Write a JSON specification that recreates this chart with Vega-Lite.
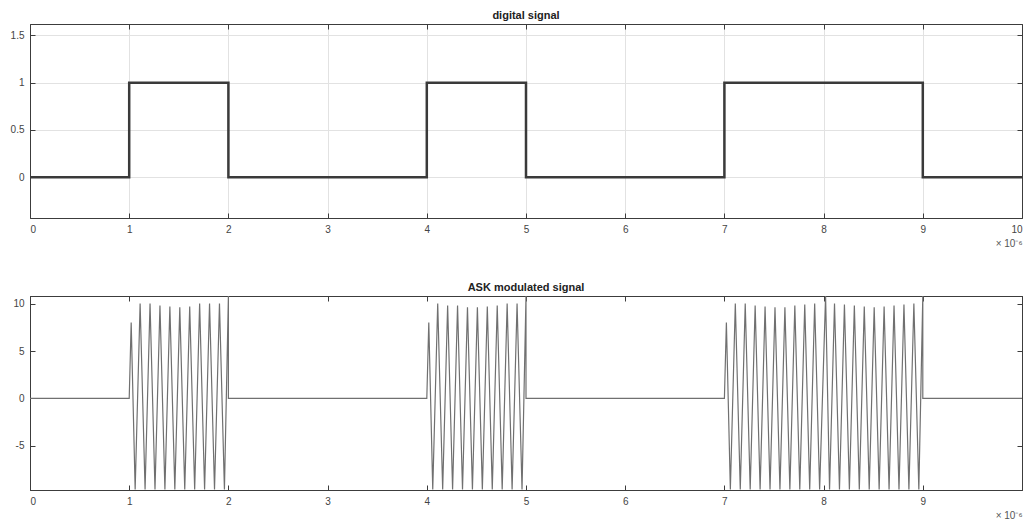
{
  "$schema": "https://vega.github.io/schema/vega-lite/v6.json",
  "padding": {"left": 9, "top": 9, "right": 3, "bottom": 0},
  "background": "white",
  "config": {
    "font": "Liberation Sans",
    "view": {"stroke": "#3c3c3c", "strokeWidth": 1},
    "axis": {
      "labelFont": "Liberation Sans", "labelFontSize": 10, "labelColor": "#444",
      "domainColor": "#3c3c3c", "tickColor": "#3c3c3c", "tickSize": -5, "labelPadding": 11,
      "titleFont": "Liberation Sans", "titleFontSize": 10, "titleFontWeight": "normal", "titleColor": "#555"
    },
    "title": {"font": "Liberation Sans", "fontSize": 11, "fontWeight": "bold", "color": "#222", "offset": 3},
    "concat": {"spacing": 32}
  },
  "datasets": {
    "digital": [
      {"i": 0, "t": 0, "v": 0}, {"i": 1, "t": 1, "v": 0}, {"i": 2, "t": 1, "v": 1}, {"i": 3, "t": 2, "v": 1},
      {"i": 4, "t": 2, "v": 0}, {"i": 5, "t": 4, "v": 0}, {"i": 6, "t": 4, "v": 1}, {"i": 7, "t": 5, "v": 1},
      {"i": 8, "t": 5, "v": 0}, {"i": 9, "t": 7, "v": 0}, {"i": 10, "t": 7, "v": 1}, {"i": 11, "t": 9, "v": 1},
      {"i": 12, "t": 9, "v": 0}, {"i": 13, "t": 10, "v": 0}
    ],
    "ask": [
      {"i": 0, "t": 0, "v": 0}, {"i": 1, "t": 1, "v": 0}, {"i": 2, "t": 1.02, "v": 8},
      {"i": 3, "t": 1.06, "v": -9.6}, {"i": 4, "t": 1.11, "v": 10}, {"i": 5, "t": 1.16, "v": -9.6},
      {"i": 6, "t": 1.21, "v": 10}, {"i": 7, "t": 1.26, "v": -9.6}, {"i": 8, "t": 1.31, "v": 9.8},
      {"i": 9, "t": 1.36, "v": -9.6}, {"i": 10, "t": 1.41, "v": 9.7}, {"i": 11, "t": 1.46, "v": -9.6},
      {"i": 12, "t": 1.51, "v": 9.6}, {"i": 13, "t": 1.56, "v": -9.6}, {"i": 14, "t": 1.61, "v": 9.7},
      {"i": 15, "t": 1.66, "v": -9.6}, {"i": 16, "t": 1.71, "v": 10}, {"i": 17, "t": 1.76, "v": -9.6},
      {"i": 18, "t": 1.81, "v": 10}, {"i": 19, "t": 1.86, "v": -9.6}, {"i": 20, "t": 1.91, "v": 10},
      {"i": 21, "t": 1.96, "v": -9.6}, {"i": 22, "t": 2.0, "v": 10.8}, {"i": 23, "t": 2.0, "v": 0},
      {"i": 24, "t": 4.0, "v": 0}, {"i": 25, "t": 4.02, "v": 8}, {"i": 26, "t": 4.06, "v": -9.6},
      {"i": 27, "t": 4.11, "v": 10}, {"i": 28, "t": 4.16, "v": -9.6}, {"i": 29, "t": 4.21, "v": 9.8},
      {"i": 30, "t": 4.26, "v": -9.6}, {"i": 31, "t": 4.31, "v": 9.8}, {"i": 32, "t": 4.36, "v": -9.6},
      {"i": 33, "t": 4.41, "v": 9.6}, {"i": 34, "t": 4.46, "v": -9.6}, {"i": 35, "t": 4.51, "v": 9.6},
      {"i": 36, "t": 4.56, "v": -9.6}, {"i": 37, "t": 4.61, "v": 9.7}, {"i": 38, "t": 4.66, "v": -9.6},
      {"i": 39, "t": 4.71, "v": 9.8}, {"i": 40, "t": 4.76, "v": -9.6}, {"i": 41, "t": 4.81, "v": 10},
      {"i": 42, "t": 4.86, "v": -9.6}, {"i": 43, "t": 4.91, "v": 10}, {"i": 44, "t": 4.96, "v": -9.6},
      {"i": 45, "t": 5.0, "v": 10.8}, {"i": 46, "t": 5.0, "v": 0}, {"i": 47, "t": 7.0, "v": 0},
      {"i": 48, "t": 7.02, "v": 8}, {"i": 49, "t": 7.06, "v": -9.6}, {"i": 50, "t": 7.11, "v": 10},
      {"i": 51, "t": 7.16, "v": -9.6}, {"i": 52, "t": 7.21, "v": 10}, {"i": 53, "t": 7.26, "v": -9.6},
      {"i": 54, "t": 7.31, "v": 9.8}, {"i": 55, "t": 7.36, "v": -9.6}, {"i": 56, "t": 7.41, "v": 9.7},
      {"i": 57, "t": 7.46, "v": -9.6}, {"i": 58, "t": 7.51, "v": 9.6}, {"i": 59, "t": 7.56, "v": -9.6},
      {"i": 60, "t": 7.61, "v": 9.6}, {"i": 61, "t": 7.66, "v": -9.6}, {"i": 62, "t": 7.71, "v": 9.8},
      {"i": 63, "t": 7.76, "v": -9.6}, {"i": 64, "t": 7.81, "v": 9.9}, {"i": 65, "t": 7.86, "v": -9.6},
      {"i": 66, "t": 7.91, "v": 10}, {"i": 67, "t": 7.96, "v": -9.6}, {"i": 68, "t": 8.02, "v": 10.8},
      {"i": 69, "t": 8.06, "v": -9.6}, {"i": 70, "t": 8.11, "v": 10}, {"i": 71, "t": 8.16, "v": -9.6},
      {"i": 72, "t": 8.21, "v": 9.9}, {"i": 73, "t": 8.26, "v": -9.6}, {"i": 74, "t": 8.31, "v": 9.8},
      {"i": 75, "t": 8.36, "v": -9.6}, {"i": 76, "t": 8.41, "v": 9.7}, {"i": 77, "t": 8.46, "v": -9.6},
      {"i": 78, "t": 8.51, "v": 9.6}, {"i": 79, "t": 8.56, "v": -9.6}, {"i": 80, "t": 8.61, "v": 9.7},
      {"i": 81, "t": 8.66, "v": -9.6}, {"i": 82, "t": 8.71, "v": 9.8}, {"i": 83, "t": 8.76, "v": -9.6},
      {"i": 84, "t": 8.81, "v": 9.9}, {"i": 85, "t": 8.86, "v": -9.6}, {"i": 86, "t": 8.91, "v": 10},
      {"i": 87, "t": 8.96, "v": -9.6}, {"i": 88, "t": 9.0, "v": 10.8}, {"i": 89, "t": 9.0, "v": 0},
      {"i": 90, "t": 10, "v": 0}
    ]
  },
  "vconcat": [
    {
      "title": "digital signal",
      "width": 992,
      "height": 194,
      "data": {"name": "digital"},
      "resolve": {"axis": {"x": "independent", "y": "independent"}},
      "layer": [
        {
          "mark": {"type": "line", "color": "#3a3a3a", "strokeWidth": 2.5, "clip": true},
          "encoding": {
            "x": {
              "field": "t", "type": "quantitative",
              "scale": {"domain": [0, 10], "nice": false, "zero": false},
              "axis": {
                "values": [0, 1, 2, 3, 4, 5, 6, 7, 8, 9, 10],
                "title": "× 10⁻⁶", "titleAnchor": "end", "titleAlign": "right", "titlePadding": 4,
                "grid": true, "gridColor": "#e2e2e2", "gridWidth": 1
              }
            },
            "y": {
              "field": "v", "type": "quantitative",
              "scale": {"domain": [-0.43, 1.62], "nice": false, "zero": false},
              "axis": {"values": [0, 0.5, 1, 1.5], "labelExpr": "toString(datum.value)", "title": null, "grid": true, "gridColor": "#e2e2e2", "gridWidth": 1}
            },
            "order": {"field": "i", "type": "quantitative"}
          }
        },
        {
          "mark": {"type": "line", "opacity": 0, "clip": true},
          "encoding": {
            "x": {"field": "t", "type": "quantitative", "axis": {"orient": "top", "values": [0, 1, 2, 3, 4, 5, 6, 7, 8, 9, 10], "labels": false, "title": null, "grid": false}},
            "y": {"field": "v", "type": "quantitative", "axis": {"orient": "right", "values": [0, 0.5, 1, 1.5], "labels": false, "title": null, "grid": false}},
            "order": {"field": "i", "type": "quantitative"}
          }
        }
      ]
    },
    {
      "title": "ASK modulated signal",
      "width": 992,
      "height": 194,
      "data": {"name": "ask"},
      "resolve": {"axis": {"x": "independent", "y": "independent"}},
      "layer": [
        {
          "mark": {"type": "line", "color": "#707070", "strokeWidth": 1.2, "clip": true},
          "encoding": {
            "x": {
              "field": "t", "type": "quantitative",
              "scale": {"domain": [0, 10], "nice": false, "zero": false},
              "axis": {
                "values": [0, 1, 2, 3, 4, 5, 6, 7, 8, 9, 10],
                "labelExpr": "datum.value == 10 ? '' : datum.label",
                "title": "× 10⁻⁶", "titleAnchor": "end", "titleAlign": "right", "titlePadding": 4,
                "grid": false
              }
            },
            "y": {
              "field": "v", "type": "quantitative",
              "scale": {"domain": [-9.65, 10.8], "nice": false, "zero": false},
              "axis": {"values": [-5, 0, 5, 10], "labelExpr": "toString(datum.value)", "title": null, "grid": false}
            },
            "order": {"field": "i", "type": "quantitative"}
          }
        },
        {
          "mark": {"type": "line", "opacity": 0, "clip": true},
          "encoding": {
            "x": {"field": "t", "type": "quantitative", "axis": {"orient": "top", "values": [0, 1, 2, 3, 4, 5, 6, 7, 8, 9, 10], "labels": false, "title": null, "grid": false}},
            "y": {"field": "v", "type": "quantitative", "axis": {"orient": "right", "values": [-5, 0, 5, 10], "labels": false, "title": null, "grid": false}},
            "order": {"field": "i", "type": "quantitative"}
          }
        }
      ]
    }
  ]
}
